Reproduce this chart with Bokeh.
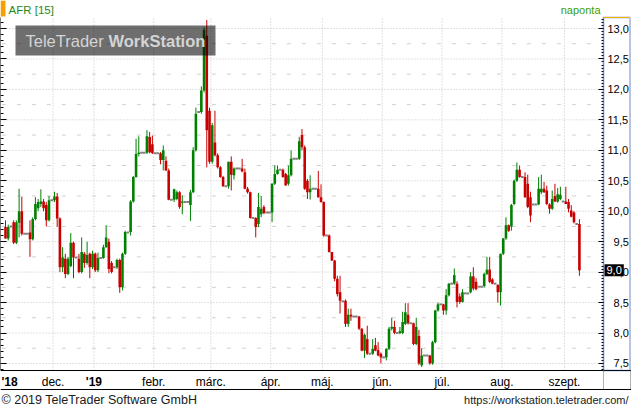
from bokeh.plotting import figure
from bokeh.models import (Range1d, LinearAxis, FixedTicker, Label, Span,
                          BoxAnnotation, ColumnDataSource)
from bokeh.embed import file_html
from bokeh.resources import INLINE

# ---------------- data (daily OHLC, AFR) ----------------
open_ = [9.74, 9.55, 9.75, 9.82, 9.48, 9.81, 10.00, 9.63, 9.63, 9.65,
         9.54, 9.87, 10.05, 10.12, 10.16, 10.10, 9.85, 10.18, 10.18, 10.24,
         9.88, 9.08, 9.22, 8.97, 9.10, 9.48, 9.24, 9.22, 9.00, 9.30,
         9.15, 9.30, 9.08, 9.30, 9.03, 9.23, 9.23, 9.41, 9.50, 9.15,
         9.08, 9.08, 9.20, 8.75, 9.30, 9.65, 9.66, 10.16, 10.56, 10.94,
         10.96, 10.96, 10.96, 11.22, 11.10, 10.95, 10.95, 10.95, 10.84, 10.83,
         10.67, 10.19, 10.19, 10.20, 10.31, 10.14, 10.15, 10.15, 10.10, 10.31,
         11.00, 11.63, 11.63, 11.98, 12.88, 11.65, 10.81, 11.13, 10.92, 10.72,
         10.56, 10.41, 10.41, 10.81, 10.59, 10.70, 10.70, 10.70, 10.64, 10.37,
         10.31, 9.89, 9.89, 9.79, 9.95, 10.07, 9.98, 9.98, 9.98, 10.45,
         10.61, 10.68, 10.68, 10.61, 10.45, 10.59, 10.86, 10.86, 10.86, 11.25,
         11.05, 10.50, 10.31, 10.37, 10.37, 10.37, 10.23, 10.15, 9.60, 9.60,
         9.33, 9.19, 8.89, 8.67, 8.52, 8.53, 8.15, 8.30, 8.27, 8.27,
         8.27, 8.07, 7.71, 7.90, 7.66, 7.66, 7.80, 7.72, 7.66, 7.60,
         7.60, 7.74, 8.07, 8.10, 8.00, 8.00, 8.00, 8.15, 8.30, 8.16,
         8.16, 7.82, 7.95, 7.47, 7.63, 7.63, 7.63, 7.50, 7.85, 8.37,
         8.47, 8.47, 8.37, 8.62, 8.81, 8.81, 8.81, 8.60, 8.51, 8.65,
         8.65, 8.67, 8.93, 8.84, 8.76, 8.76, 8.77, 8.97, 9.04, 8.88,
         8.81, 8.79, 8.67, 9.30, 9.55, 9.77, 9.75, 10.12, 10.50, 10.68,
         10.56, 10.56, 10.45, 10.23, 10.11, 10.11, 10.11, 10.31, 10.37, 10.34,
         10.11, 10.04, 10.25, 10.16, 10.20, 10.16, 10.16, 10.15, 10.01, 9.98,
         9.79, 9.79]
high = [9.85, 9.78, 9.75, 9.85, 9.85, 10.37, 10.24, 9.63, 9.63, 9.85,
        9.90, 10.23, 10.20, 10.36, 10.20, 10.15, 10.25, 10.18, 10.32, 10.30,
        9.90, 9.41, 9.30, 9.25, 9.64, 9.50, 9.24, 9.30, 9.57, 9.33,
        9.50, 9.32, 9.35, 9.32, 9.32, 9.23, 9.45, 9.77, 9.55, 9.18,
        9.08, 9.22, 9.22, 9.32, 9.68, 9.65, 10.18, 10.58, 11.19, 11.23,
        10.96, 10.96, 11.33, 11.30, 11.24, 10.95, 10.95, 10.97, 11.08, 10.90,
        10.70, 10.19, 10.37, 10.34, 10.33, 10.26, 10.15, 10.15, 10.35, 11.05,
        11.70, 11.63, 12.05, 13.02, 13.14, 11.70, 11.45, 11.65, 10.95, 10.74,
        10.58, 10.41, 10.81, 10.90, 10.72, 10.70, 10.70, 10.86, 10.70, 10.40,
        10.32, 9.89, 9.90, 10.30, 10.25, 10.10, 9.98, 9.98, 10.46, 10.75,
        10.75, 10.68, 10.70, 10.63, 10.75, 11.00, 10.86, 10.86, 11.22, 11.35,
        11.08, 10.53, 10.59, 10.37, 10.37, 10.66, 10.44, 10.16, 9.60, 9.62,
        9.33, 9.20, 8.94, 8.94, 8.52, 8.55, 8.40, 8.40, 8.27, 8.27,
        8.28, 8.08, 7.99, 8.12, 7.66, 7.90, 7.92, 7.85, 7.68, 7.60,
        7.75, 8.10, 8.25, 8.20, 8.00, 8.10, 8.35, 8.49, 8.49, 8.16,
        8.17, 8.25, 8.05, 7.75, 7.63, 7.63, 7.64, 7.87, 8.38, 8.50,
        8.47, 8.48, 8.72, 8.82, 8.81, 9.06, 8.85, 8.65, 8.72, 8.65,
        8.65, 9.00, 9.08, 8.90, 8.76, 8.76, 8.99, 9.25, 9.25, 8.90,
        8.81, 8.80, 9.30, 9.56, 9.90, 9.78, 10.12, 10.52, 10.80, 10.75,
        10.56, 10.64, 10.60, 10.32, 10.11, 10.11, 10.56, 10.60, 10.48, 10.42,
        10.13, 10.34, 10.45, 10.38, 10.40, 10.16, 10.40, 10.20, 10.10, 10.00,
        9.79, 9.87]
low = [9.55, 9.52, 9.75, 9.46, 9.46, 9.57, 9.60, 9.63, 9.63, 9.25,
       9.52, 9.85, 10.00, 10.07, 10.00, 9.75, 9.83, 10.18, 10.15, 9.74,
       9.00, 9.00, 8.90, 8.95, 9.08, 8.90, 9.24, 8.98, 8.98, 9.07,
       9.12, 8.90, 9.05, 9.00, 9.00, 9.23, 9.22, 9.40, 8.98, 8.98,
       9.08, 9.05, 8.66, 8.70, 9.28, 9.65, 9.60, 10.14, 10.55, 10.90,
       10.96, 10.96, 10.94, 10.95, 10.94, 10.95, 10.95, 10.77, 10.67, 10.66,
       10.18, 10.19, 10.15, 10.18, 10.04, 9.95, 10.15, 10.15, 9.84, 10.30,
       10.98, 11.63, 11.60, 11.95, 10.72, 10.78, 10.78, 10.90, 10.70, 10.55,
       10.40, 10.41, 10.37, 10.34, 10.52, 10.70, 10.70, 10.64, 10.36, 10.29,
       9.88, 9.89, 9.57, 9.74, 9.90, 9.95, 9.98, 9.98, 9.82, 10.43,
       10.60, 10.68, 10.55, 10.42, 10.42, 10.57, 10.86, 10.86, 10.84, 11.00,
       10.35, 10.20, 10.19, 10.37, 10.37, 10.22, 10.14, 9.58, 9.60, 9.32,
       9.18, 8.85, 8.60, 8.32, 8.52, 8.10, 8.10, 8.20, 8.27, 8.27,
       8.05, 7.70, 7.59, 7.64, 7.66, 7.64, 7.70, 7.62, 7.50, 7.60,
       7.55, 7.72, 8.04, 7.98, 8.00, 7.98, 7.98, 8.13, 8.14, 8.16,
       7.80, 7.80, 7.47, 7.44, 7.63, 7.63, 7.48, 7.48, 7.83, 8.35,
       8.47, 8.30, 8.30, 8.60, 8.81, 8.79, 8.42, 8.48, 8.50, 8.65,
       8.65, 8.65, 8.70, 8.70, 8.76, 8.76, 8.75, 8.95, 8.82, 8.80,
       8.81, 8.50, 8.45, 9.28, 9.53, 9.66, 9.68, 10.10, 10.48, 10.55,
       10.56, 10.22, 10.05, 9.82, 10.11, 10.11, 10.10, 10.28, 10.30, 10.10,
       9.96, 10.02, 10.15, 10.14, 10.18, 10.16, 10.12, 9.98, 9.90, 9.80,
       9.79, 8.94]
close = [9.55, 9.74, 9.75, 9.48, 9.82, 10.00, 9.63, 9.63, 9.63, 9.54,
         9.87, 10.12, 10.15, 10.16, 10.05, 9.85, 10.18, 10.18, 10.24, 9.88,
         9.08, 9.24, 8.97, 9.22, 9.48, 9.24, 9.24, 9.00, 9.33, 9.15,
         9.28, 9.08, 9.30, 9.03, 9.23, 9.23, 9.41, 9.57, 9.05, 9.00,
         9.08, 9.20, 8.75, 9.30, 9.66, 9.65, 10.16, 10.56, 10.94, 10.96,
         10.96, 10.96, 11.23, 10.97, 10.95, 10.95, 10.95, 10.84, 11.00, 10.67,
         10.19, 10.19, 10.36, 10.31, 10.07, 10.16, 10.15, 10.15, 10.31, 11.00,
         11.60, 11.63, 11.98, 12.98, 11.33, 10.81, 11.41, 10.92, 10.72, 10.56,
         10.41, 10.41, 10.81, 10.60, 10.70, 10.70, 10.70, 10.65, 10.37, 10.31,
         9.89, 9.89, 9.74, 10.07, 10.04, 9.97, 9.98, 9.98, 10.45, 10.61,
         10.68, 10.68, 10.56, 10.42, 10.59, 10.86, 10.86, 10.86, 11.15, 11.05,
         10.37, 10.31, 10.37, 10.37, 10.37, 10.23, 10.15, 9.60, 9.60, 9.33,
         9.19, 8.89, 8.64, 8.53, 8.52, 8.15, 8.30, 8.27, 8.27, 8.27,
         8.07, 7.71, 7.97, 7.66, 7.66, 7.74, 7.71, 7.63, 7.60, 7.60,
         7.74, 8.07, 8.10, 8.00, 8.00, 8.03, 8.18, 8.34, 8.16, 8.16,
         7.82, 8.10, 7.50, 7.63, 7.63, 7.63, 7.50, 7.85, 8.37, 8.47,
         8.47, 8.37, 8.62, 8.81, 8.81, 8.95, 8.51, 8.51, 8.67, 8.65,
         8.65, 8.93, 8.73, 8.72, 8.76, 8.76, 8.97, 9.04, 8.84, 8.81,
         8.81, 8.67, 9.30, 9.55, 9.77, 9.68, 10.10, 10.50, 10.68, 10.56,
         10.56, 10.23, 10.07, 9.93, 10.11, 10.11, 10.37, 10.37, 10.31, 10.12,
         10.04, 10.20, 10.16, 10.28, 10.27, 10.16, 10.12, 10.04, 9.91, 9.82,
         9.79, 9.03]

month_ticks = [17.5, 32.5, 54.5, 75.5, 97.5, 116.5, 138.5, 160.5, 182.5, 205.5]
month_names = ["dec.", "", "febr.", "márc.", "ápr.", "máj.", "jún.", "júl.", "aug.", "szept."]
year_ticks = [1.5, 32.5]
year_names = ["'18", "'19"]
price_ticks = [7.5, 8.0, 8.5, 9.0, 9.5, 10.0, 10.5, 11.0, 11.5, 12.0, 12.5, 13.0]
price_names = ["7,5", "8,0", "8,5", "9,0", "9,5", "10,0", "10,5", "11,0", "11,5", "12,0", "12,5", "13,0"]
quarter_ticks = [7.75, 8.25, 8.75, 9.25, 9.75, 10.25, 10.75, 11.25, 11.75, 12.25, 12.75]

# ---------------- layout constants (pixels) ----------------
W, H = 631, 408
PLOT_L, PLOT_R, PLOT_T, PLOT_B = 0, 603, 17, 370
X_FIRST_PX, X_STEP_PX = 5.0, 2.72        # first candle position, candle spacing
Y_REF_PX, Y_REF_VAL, Y_PX_PER_UNIT = 28.0, 13.0, 60.9


def xval(px):
    return (px - X_FIRST_PX) / X_STEP_PX


def yval(py):
    return Y_REF_VAL - (py - Y_REF_PX) / Y_PX_PER_UNIT


FONT = "Liberation Sans"
GREEN = "#008000"
RED = "#c80000"
GRAY = "#808080"
GRID = "#c4c4c4"

# ---------------- sources ----------------
up = dict(x=[], top=[], bottom=[], high=[], low=[])
dn = dict(x=[], top=[], bottom=[], high=[], low=[])
fl = dict(x0=[], x1=[], y=[])
for i, (o, h, l, c) in enumerate(zip(open_, high, low, close)):
    if c > o:
        d = up
    elif c < o:
        d = dn
    else:
        fl["x0"].append(i - 0.5)
        fl["x1"].append(i + 0.5)
        fl["y"].append(c)
        continue
    d["x"].append(i)
    d["top"].append(max(o, c))
    d["bottom"].append(min(o, c))
    d["high"].append(h)
    d["low"].append(l)

p = figure(width=W, height=H, output_backend="svg", toolbar_location=None,
           x_axis_type=None, y_axis_type=None,
           x_range=Range1d(xval(0), xval(W)), y_range=Range1d(yval(H), yval(0)),
           min_border=0, outline_line_color=None,
           background_fill_color="white", border_fill_color="white")

x_l, x_r = xval(PLOT_L), xval(PLOT_R)
y_b, y_t = yval(PLOT_B), yval(PLOT_T)

# grid lines (limited to the plot area)
p.segment(x0=month_ticks, x1=month_ticks, y0=[y_b] * len(month_ticks),
          y1=[y_t] * len(month_ticks), line_color=GRID, line_dash="1 2", line_width=1)
p.segment(x0=[x_l] * len(price_ticks), x1=[x_r] * len(price_ticks), y0=price_ticks,
          y1=price_ticks, line_color=GRID, line_dash="1 2", line_width=1)
p.segment(x0=[x_l + 0.5] * len(quarter_ticks), x1=[x_r] * len(quarter_ticks), y0=quarter_ticks,
          y1=quarter_ticks, line_color="#d0d0d0", line_dash="4 11", line_width=1)

# axes drawn at fixed positions
minor_right = [round(7.4 + 0.05 * k, 2) for k in range(116)]
minor_left = [round(7.4 + 0.1 * k, 1) for k in range(58)]
yr = LinearAxis(ticker=FixedTicker(ticks=price_ticks, minor_ticks=minor_right),
                fixed_location=x_r, bounds=(y_b, y_t),
                major_label_overrides={t: (n if len(n) == 4 else "\u2007" + n)
                                       for t, n in zip(price_ticks, price_names)},
                axis_line_color="#f0b400", axis_line_width=1,
                major_tick_in=5, major_tick_out=0, minor_tick_in=2, minor_tick_out=0,
                major_tick_line_color="black", minor_tick_line_color="black",
                major_label_standoff=4, major_label_text_font=FONT,
                major_label_text_font_size="11px", major_label_text_color="black")
p.add_layout(yr, "right")

yl = LinearAxis(ticker=FixedTicker(ticks=price_ticks, minor_ticks=minor_left),
                fixed_location=x_l, bounds=(y_b, y_t),
                major_label_text_color=None, major_label_standoff=0,
                major_tick_in=6, major_tick_out=0, minor_tick_in=3, minor_tick_out=0,
                axis_line_color="black", major_tick_line_color="black",
                minor_tick_line_color="black")
p.add_layout(yl, "left")

named = [(t, n) for t, n in zip(month_ticks, month_names) if n]
xb = LinearAxis(ticker=FixedTicker(ticks=[t for t, _ in named]),
                fixed_location=y_b, bounds=(xval(0), xval(W)),
                major_label_overrides=dict(named),
                axis_line_color="black", major_tick_in=0, major_tick_out=0,
                minor_tick_line_color=None, major_label_standoff=4,
                major_label_text_font=FONT, major_label_text_font_size="12px",
                major_label_text_color="black")
p.add_layout(xb, "below")
p.add_layout(Span(location=yval(389), dimension="width", line_color="black", line_width=1))

# candles
su = ColumnDataSource(up)
sd = ColumnDataSource(dn)
sf = ColumnDataSource(fl)
p.segment(x0="x", y0="high", x1="x", y1="low", source=su, line_color=GREEN, line_width=1)
p.segment(x0="x", y0="high", x1="x", y1="low", source=sd, line_color=RED, line_width=1)
p.vbar(x="x", width=0.95, top="top", bottom="bottom", source=su, fill_color=GREEN, line_color=None)
p.vbar(x="x", width=0.95, top="top", bottom="bottom", source=sd, fill_color=RED, line_color=None)
p.segment(x0="x0", y0="y", x1="x1", y1="y", source=sf, line_color=GRAY, line_width=2)


def scr(py):
    """canvas pixel row -> screen units (measured from bottom)"""
    return H - py


# year labels on the time axis
for t, name in zip(year_ticks, year_names):
    p.add_layout(Label(x=t, y=scr(381), x_units="data", y_units="screen", text=name,
                       text_align="center", text_baseline="middle", text_font=FONT,
                       text_font_size="12px", text_font_style="bold", text_color="black"))

# header
p.add_layout(BoxAnnotation(left=0, right=5, bottom=scr(16), top=scr(0), left_units="screen",
                           right_units="screen", top_units="screen", bottom_units="screen",
                           fill_color="#f5a000", fill_alpha=1, line_color=None))
p.add_layout(Label(x=8, y=scr(9), x_units="screen", y_units="screen", text="AFR [15]",
                   text_baseline="middle", text_font=FONT, text_font_size="11.5px",
                   text_color="#2a8a1a"))
p.add_layout(Label(x=600, y=scr(9), x_units="screen", y_units="screen", text="naponta",
                   text_align="right", text_baseline="middle", text_font=FONT,
                   text_font_size="11px", text_color="#40a000"))

# watermark
p.add_layout(BoxAnnotation(left=15, right=215, bottom=scr(55), top=scr(25), left_units="screen",
                           right_units="screen", top_units="screen", bottom_units="screen",
                           fill_color="black", fill_alpha=0.57, line_color=None))
p.add_layout(Label(x=25, y=scr(40), x_units="screen", y_units="screen", text="TeleTrader",
                   text_baseline="middle", text_font=FONT, text_font_size="16.5px",
                   text_color="#d4d4d4"))
p.add_layout(Label(x=108, y=scr(40), x_units="screen", y_units="screen", text="WorkStation",
                   text_baseline="middle", text_font=FONT, text_font_size="16.5px",
                   text_font_style="bold", text_color="#d4d4d4"))

# right scale frame
p.add_layout(BoxAnnotation(left=603, right=629.5, bottom=scr(370), top=scr(17), left_units="screen",
                           right_units="screen", top_units="screen", bottom_units="screen",
                           fill_alpha=0, line_color="#1a3a9a", line_width=2))
p.add_layout(BoxAnnotation(left=603, right=628.5, bottom=scr(17.5), top=scr(16.5), left_units="screen",
                           right_units="screen", top_units="screen", bottom_units="screen",
                           fill_color="#f0b400", fill_alpha=1, line_color=None))
p.add_layout(BoxAnnotation(left=603, right=630, bottom=scr(389), top=scr(370), left_units="screen",
                           right_units="screen", top_units="screen", bottom_units="screen",
                           fill_alpha=0, line_color="black", line_width=1))

# last price marker
last = close[-1]
p.add_layout(Label(x=604, y=last, x_units="screen", y_units="data",
                   text=f"{last:.1f}".replace(".", ","), text_baseline="middle",
                   text_font=FONT, text_font_size="11px", text_color="white",
                   background_fill_color="black", padding=2))

# footer
p.add_layout(Label(x=1, y=scr(399), x_units="screen", y_units="screen",
                   text="© 2019 TeleTrader Software GmbH", text_baseline="middle",
                   text_font=FONT, text_font_size="12.5px", text_color="#202020"))
p.add_layout(Label(x=628, y=scr(399), x_units="screen", y_units="screen",
                   text="https://workstation.teletrader.com/", text_align="right",
                   text_baseline="middle", text_font=FONT, text_font_size="11px",
                   text_color="#202020"))

html = file_html(p, INLINE)
html = html.replace("<head>", "<head><style>html,body{margin:0;padding:0;}</style>", 1)
open("out.html", "w").write(html)
